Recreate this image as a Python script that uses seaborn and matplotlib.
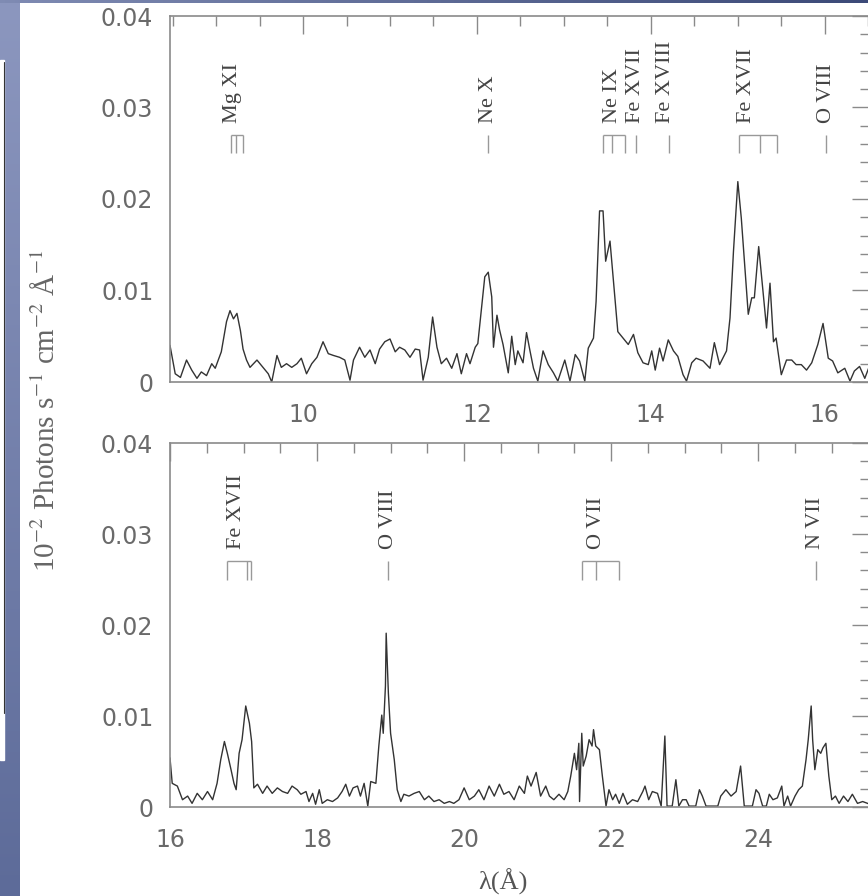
# X-ray spectrum, two panels (8.5-16.5 A and 16-25.5 A) with line IDs
import numpy as np
import pandas as pd
import matplotlib
matplotlib.use('Agg')
import matplotlib.pyplot as plt
from matplotlib.ticker import MultipleLocator, FuncFormatter
import seaborn as sns

# ---- data (flux in units of 1e-3) ----
top_wave = [8.47, 8.53, 8.59, 8.66, 8.72, 8.78, 8.83, 8.89, 8.95, 8.99,
            9.06, 9.12, 9.16, 9.20, 9.24, 9.28, 9.31, 9.35, 9.39, 9.47,
            9.54, 9.60, 9.64, 9.70, 9.75, 9.81, 9.87, 9.93, 9.98, 10.04,
            10.10, 10.16, 10.23, 10.29, 10.35, 10.42, 10.48, 10.54, 10.58, 10.65,
            10.71, 10.77, 10.83, 10.88, 10.94, 11.00, 11.06, 11.11, 11.17, 11.23,
            11.29, 11.34, 11.38, 11.44, 11.49, 11.54, 11.59, 11.65, 11.71, 11.77,
            11.82, 11.88, 11.92, 11.98, 12.01, 12.05, 12.09, 12.13, 12.17, 12.19,
            12.23, 12.26, 12.30, 12.36, 12.40, 12.44, 12.47, 12.53, 12.57, 12.61,
            12.65, 12.70, 12.76, 12.82, 12.88, 12.93, 13.01, 13.07, 13.13, 13.18,
            13.24, 13.28, 13.34, 13.37, 13.41, 13.45, 13.48, 13.53, 13.57, 13.62,
            13.68, 13.74, 13.80, 13.85, 13.91, 13.97, 14.01, 14.05, 14.10, 14.14,
            14.20, 14.26, 14.31, 14.37, 14.41, 14.47, 14.52, 14.60, 14.68, 14.73,
            14.79, 14.87, 14.91, 14.95, 15.00, 15.04, 15.08, 15.12, 15.16, 15.19,
            15.24, 15.29, 15.33, 15.37, 15.41, 15.44, 15.50, 15.56, 15.62, 15.67,
            15.73, 15.79, 15.85, 15.92, 15.98, 16.04, 16.09, 16.15, 16.23, 16.29,
            16.34, 16.40, 16.46, 16.52]
top_flux = [4.0, 0.9, 0.5, 2.4, 1.3, 0.4, 1.1, 0.7, 2.0, 1.5,
            3.3, 6.6, 7.8, 6.9, 7.5, 5.6, 3.6, 2.4, 1.6, 2.4,
            1.6, 0.9, 0.0, 2.9, 1.6, 2.0, 1.6, 2.0, 2.6, 0.9,
            2.0, 2.7, 4.4, 3.1, 2.9, 2.7, 2.4, 0.2, 2.4, 3.8,
            2.7, 3.5, 2.0, 3.6, 4.4, 4.7, 3.3, 3.8, 3.5, 2.7,
            3.6, 3.5, 0.2, 2.7, 7.1, 3.8, 2.0, 2.6, 1.5, 3.1,
            0.9, 3.1, 2.0, 3.8, 4.2, 7.8, 11.5, 12.0, 9.3, 3.8,
            7.3, 5.7, 4.1, 1.0, 5.0, 1.9, 3.4, 2.1, 5.4, 3.4,
            1.5, 0.1, 3.4, 1.9, 1.0, 0.1, 2.4, 0.1, 3.0, 2.3,
            0.1, 3.7, 4.8, 8.8, 18.7, 18.7, 13.2, 15.4, 11.0, 5.5,
            4.8, 4.1, 5.2, 3.2, 2.1, 1.9, 3.4, 1.3, 3.7, 2.3,
            4.6, 3.4, 2.8, 0.8, 0.1, 2.1, 2.6, 2.3, 1.5, 4.3,
            1.9, 3.4, 7.0, 14.3, 21.9, 17.9, 12.6, 7.4, 9.2, 9.2,
            14.8, 9.9, 5.9, 10.8, 4.4, 4.8, 0.8, 2.4, 2.4, 1.9,
            1.9, 1.3, 2.1, 4.1, 6.4, 2.6, 2.3, 1.0, 1.5, 0.1,
            1.2, 1.7, 0.4, 1.9]

bot_wave = [16.00, 16.03, 16.10, 16.17, 16.24, 16.30, 16.37, 16.44, 16.51, 16.58,
            16.64, 16.69, 16.74, 16.78, 16.83, 16.87, 16.90, 16.94, 16.98, 17.03,
            17.08, 17.11, 17.14, 17.19, 17.26, 17.32, 17.39, 17.46, 17.53, 17.60,
            17.66, 17.73, 17.78, 17.85, 17.89, 17.94, 17.98, 18.03, 18.07, 18.14,
            18.21, 18.28, 18.34, 18.39, 18.44, 18.49, 18.55, 18.59, 18.64, 18.69,
            18.73, 18.80, 18.84, 18.88, 18.90, 18.93, 18.94, 18.97, 19.00, 19.05,
            19.09, 19.14, 19.18, 19.25, 19.32, 19.39, 19.46, 19.52, 19.59, 19.66,
            19.73, 19.80, 19.86, 19.93, 20.00, 20.07, 20.14, 20.20, 20.27, 20.34,
            20.41, 20.48, 20.54, 20.61, 20.68, 20.75, 20.82, 20.86, 20.91, 20.98,
            21.04, 21.11, 21.16, 21.22, 21.29, 21.36, 21.41, 21.45, 21.50, 21.53,
            21.56, 21.57, 21.60, 21.62, 21.66, 21.70, 21.74, 21.76, 21.79, 21.84,
            21.88, 21.93, 21.97, 22.02, 22.06, 22.11, 22.16, 22.22, 22.29, 22.36,
            22.43, 22.46, 22.51, 22.56, 22.63, 22.68, 22.73, 22.76, 22.83, 22.88,
            22.92, 22.97, 23.02, 23.06, 23.15, 23.20, 23.24, 23.29, 23.45, 23.49,
            23.56, 23.63, 23.70, 23.76, 23.81, 23.92, 23.97, 24.01, 24.06, 24.11,
            24.15, 24.20, 24.26, 24.32, 24.35, 24.40, 24.44, 24.50, 24.55, 24.60,
            24.65, 24.68, 24.72, 24.74, 24.77, 24.81, 24.85, 24.88, 24.92, 24.96,
            25.00, 25.05, 25.10, 25.16, 25.22, 25.28, 25.35, 25.42, 25.52]
bot_flux = [5.4, 2.6, 2.3, 0.8, 1.2, 0.4, 1.5, 0.8, 1.7, 0.8,
            2.6, 5.2, 7.2, 5.9, 4.1, 2.6, 1.9, 5.9, 7.4, 11.1,
            9.2, 7.2, 2.1, 2.5, 1.5, 2.3, 1.5, 2.1, 1.7, 1.5,
            2.3, 1.9, 1.4, 1.7, 0.6, 1.5, 0.3, 1.9, 0.4, 0.8,
            0.6, 1.0, 1.7, 2.5, 1.2, 2.1, 2.3, 1.2, 2.6, 0.1,
            2.8, 2.6, 6.7, 10.1, 8.1, 13.3, 19.1, 12.5, 8.1, 5.2,
            1.9, 0.6, 1.4, 1.2, 1.5, 1.7, 0.8, 1.2, 0.6, 0.8,
            0.4, 0.6, 0.4, 0.8, 2.1, 0.8, 1.2, 1.9, 0.8, 2.3,
            1.2, 2.5, 1.4, 1.7, 0.8, 2.3, 1.5, 3.4, 2.3, 3.8,
            1.2, 2.3, 1.2, 0.8, 1.4, 0.8, 1.7, 3.4, 5.9, 4.1,
            7.0, 0.6, 8.1, 4.5, 5.6, 7.4, 6.7, 8.5, 6.7, 6.3,
            3.4, 0.1, 1.9, 0.8, 1.4, 0.4, 1.5, 0.3, 0.8, 0.6,
            1.7, 2.3, 0.8, 1.7, 1.5, 0.1, 7.8, 0.1, 0.1, 3.0,
            0.1, 0.8, 0.8, 0.1, 0.1, 1.9, 1.2, 0.1, 0.1, 1.2,
            1.9, 1.2, 1.7, 4.5, 0.1, 0.1, 1.9, 1.5, 0.1, 0.1,
            1.4, 0.8, 1.0, 2.3, 0.1, 1.2, 0.1, 1.2, 1.9, 2.3,
            5.2, 7.4, 11.1, 7.4, 4.1, 6.3, 5.9, 6.5, 7.0, 3.4,
            0.8, 1.2, 0.4, 1.2, 0.6, 1.4, 0.4, 0.6, 0.3]

# line identifications: label, wavelengths of the ticks, label position
top_labels = ['Mg XI', 'Ne X', 'Ne IX', 'Fe XVII', 'Fe XVIII', 'Fe XVII', 'O VIII']
top_line_waves = [[9.17, 9.23, 9.31], [12.13], [13.45, 13.55, 13.70], [13.83],
                  [14.21], [15.01, 15.26, 15.45], [16.01]]
top_label_x = [9.19, 12.13, 13.56, 13.82, 14.17, 15.10, 16.02]

bot_labels = ['Fe XVII', 'O VIII', 'O VII', 'N VII']
bot_line_waves = [[16.78, 17.05, 17.10], [18.97], [21.60, 21.80, 22.10], [24.78]]
bot_label_x = [16.91, 18.97, 21.80, 24.78]

assert len(top_wave) == len(top_flux) and len(bot_wave) == len(bot_flux)

top_df = pd.DataFrame({'wave': top_wave, 'flux': np.array(top_flux) * 1e-3})
bot_df = pd.DataFrame({'wave': bot_wave, 'flux': np.array(bot_flux) * 1e-3})

# ---- style ----
sns.set_style('white')
plt.rcParams['font.family'] = ['DejaVu Sans']
plt.rcParams['mathtext.fontset'] = 'stix'
serif = ['Liberation Serif', 'DejaVu Serif']
axis_grey = '#8a8a8a'

fig = plt.figure(figsize=(8.68, 8.96), dpi=100)
fig.patch.set_facecolor('white')

# slide background bits on the left and top edge
strip = fig.add_axes([0, 0, 20 / 868, 1])
strip.imshow(np.linspace(0, 1, 256).reshape(-1, 1), aspect='auto',
             cmap=matplotlib.colors.LinearSegmentedColormap.from_list('s', ['#8c97bf', '#5d6b99']),
             extent=[0, 1, 0, 1])
strip.add_patch(plt.Rectangle((0, 1 - 760 / 896), 4 / 20, (760 - 60) / 896, color='white'))
strip.plot([3.5 / 20, 3.5 / 20], [1 - 62 / 896, 1 - 713 / 896], color='#333', lw=0.8)
strip.set_xlim(0, 1)
strip.set_ylim(0, 1)
strip.axis('off')

topbar = fig.add_axes([0, 1 - 3 / 896, 1, 3 / 896])
topbar.imshow(np.linspace(0, 1, 256).reshape(1, -1), aspect='auto',
              cmap=matplotlib.colors.LinearSegmentedColormap.from_list('t', ['#7f8bb3', '#3c4a78']))
topbar.axis('off')

left = 170 / 868
width = 700 / 868
ax_top = fig.add_axes([left, (896 - 382) / 896, width, 366 / 896])
ax_bot = fig.add_axes([left, (896 - 807) / 896, width, 364 / 896])


def style_axes(ax, xmin, xmax):
    ax.set_xlim(xmin, xmax)
    ax.set_ylim(0, 0.04)
    ax.xaxis.set_major_locator(MultipleLocator(2))
    ax.xaxis.set_minor_locator(MultipleLocator(0.5))
    ax.yaxis.set_major_locator(MultipleLocator(0.01))
    ax.yaxis.set_minor_locator(MultipleLocator(0.002))
    ax.yaxis.set_major_formatter(FuncFormatter(lambda v, _: '0' if abs(v) < 1e-9 else f'{v:.2f}'))
    ax.tick_params(which='both', direction='in', top=True, right=True,
                   color=axis_grey, width=1, labelsize=17, labelcolor='#6a6a6a')
    ax.tick_params(which='major', length=13)
    ax.tick_params(which='minor', length=7)
    ax.tick_params(axis='x', pad=15)
    ax.tick_params(axis='y', pad=12)
    for s in ax.spines.values():
        s.set_color(axis_grey)
        s.set_linewidth(1.2)
    ax.set_xlabel('')
    ax.set_ylabel('')


def mark_lines(ax, labels, waves, label_x):
    for lab, ws, lx in zip(labels, waves, label_x):
        ax.vlines(ws, 0.025, 0.027, color='#999', lw=1)
        if len(ws) > 1:
            ax.hlines(0.027, min(ws), max(ws), color='#999', lw=1)
        ax.text(lx, 0.0283, lab, rotation=90, ha='center', va='bottom',
                fontsize=16, family=serif, color='#444')


sns.lineplot(data=top_df, x='wave', y='flux', ax=ax_top, color='#333',
             linewidth=1.0, estimator=None, sort=False)
sns.lineplot(data=bot_df, x='wave', y='flux', ax=ax_bot, color='#333',
             linewidth=1.0, estimator=None, sort=False)

style_axes(ax_top, 8.47, 16.52)
style_axes(ax_bot, 16.0, 25.52)
mark_lines(ax_top, top_labels, top_line_waves, top_label_x)
mark_lines(ax_bot, bot_labels, bot_line_waves, bot_label_x)

fig.text(47 / 868, 1 - 411 / 896,
         '10$^{-2}$ Photons s$^{-1}$ cm$^{-2}$ Å$^{-1}$',
         rotation=90, ha='center', va='center', fontsize=21,
         family=serif, color='#666')
fig.text(503 / 868, 1 - 882 / 896, 'λ(Å)', ha='center', va='center',
         fontsize=19, family=serif, color='#555')

fig.savefig('out.png', dpi=100)
